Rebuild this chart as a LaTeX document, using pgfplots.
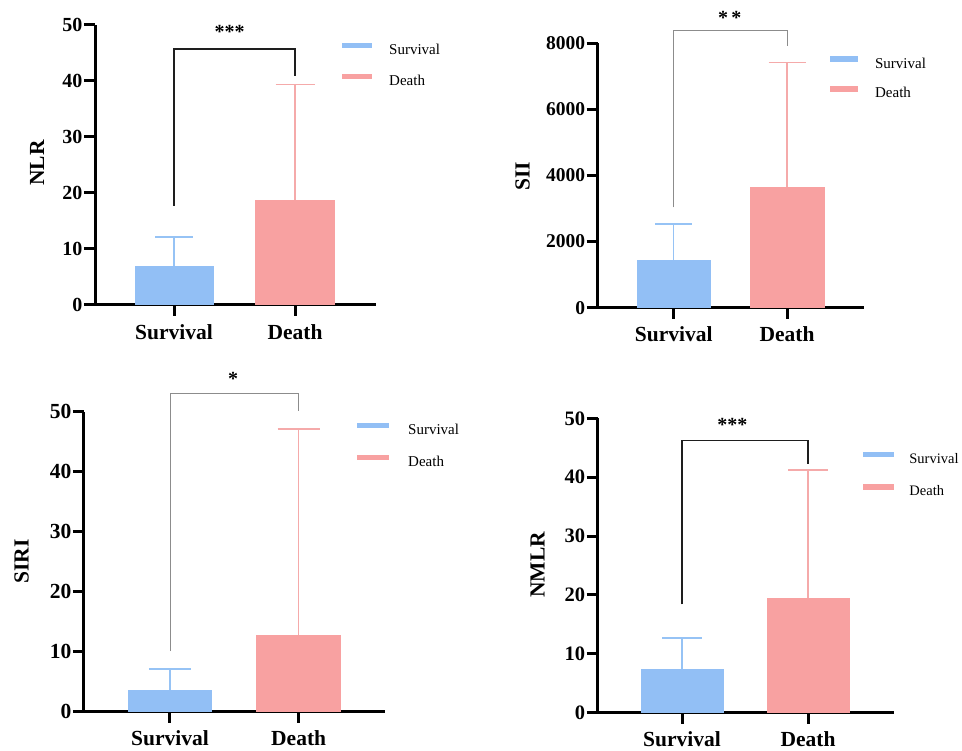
\documentclass[border=0pt]{standalone}
\usepackage{pgfplots}
\pgfplotsset{compat=1.18}
\usepackage{fontspec}
\setmainfont{Liberation Serif}
\definecolor{blueC}{RGB}{146,191,245}
\definecolor{pinkC}{RGB}{248,161,161}
\definecolor{blueE}{RGB}{150,195,245}
\definecolor{pinkE}{RGB}{245,170,170}
\definecolor{brk}{RGB}{30,30,30}
\definecolor{brkg}{RGB}{140,140,140}
\pgfplotsset{
  panel/.style={
    scale only axis, axis lines=left,
    axis line style={-, line width=3pt, black},
    tick align=outside, major tick length=11pt,
    tick style={line width=3pt, black},
    xtick={1,2}, xticklabels={Survival,Death},
    ymin=0, enlargelimits=false, clip=false,
    /pgf/number format/assume math mode=true,
    /pgf/number format/1000 sep={},
    yticklabel style={font=\fontsize{20}{20}\selectfont\bfseries, inner sep=1.5pt},
    xticklabel style={font=\fontsize{21.5}{21.5}\selectfont\bfseries, inner sep=0pt, yshift=-8pt},
    ylabel style={font=\fontsize{21.5}{21.5}\selectfont\bfseries, anchor=center},
    legend cell align=left,
  },
  leg/.style n args={5}{
    legend image code/.code={\fill[##1, draw=none] (0pt,2.5pt) rectangle (#3,8pt);},
    legend style={draw=none, fill=none, at={(#1,#2)}, anchor=north west,
      inner sep=0pt, row sep=#4, font=\fontsize{15}{15}\selectfont,
      nodes={inner sep=0pt, text height=10.5pt, text depth=3pt},
      /tikz/every odd column/.append style={column sep=#5}},
  },
}
\begin{document}
\begin{tikzpicture}
\useasboundingbox (0,0) rectangle (962pt,751pt);
\clip (0,0) rectangle (962pt,751pt);
% ---------- Panel 1: NLR ----------
\begin{axis}[panel, at={(95pt,446pt)}, anchor=south west,
  width=281pt, height=280pt, xmin=0.347, xmax=2.669, ymax=50,
  ytick={0,10,20,30,40,50}, ylabel={NLR},
  ylabel style={at={(axis description cs:-0.206,0.507)}},
  leg={0.879}{0.938}{30pt}{16.5pt}{17pt}]
\addlegendimage{fill=blueC}\addlegendentry{Survival}
\addlegendimage{fill=pinkC}\addlegendentry{Death}
\addplot[forget plot, ybar, bar width=79pt, bar shift=0pt, fill=blueC, draw=none,
  error bars/.cd, y dir=plus, y explicit,
  error bar style={line width=1.5pt, blueE},
  error mark options={rotate=90, mark size=19pt, line width=1.5pt, blueE}]
  coordinates {(1,7.0) +- (0,5.1)};
\addplot[forget plot, ybar, bar width=80pt, bar shift=0pt, fill=pinkC, draw=none,
  error bars/.cd, y dir=plus, y explicit,
  error bar style={line width=1.5pt, pinkE},
  error mark options={rotate=90, mark size=19.5pt, line width=1.5pt, pinkE}]
  coordinates {(2,18.8) +- (0,20.6)};
\draw[line width=1.5pt, brk] (axis cs:1,17.7) |- (axis cs:2,45.7) -- (axis cs:2,40.9);
\node[anchor=base, font=\fontsize{20}{20}\selectfont\bfseries] at (axis cs:1.46,47.6) {***};
\end{axis}
% ---------- Panel 2: SII ----------
\begin{axis}[panel, at={(597.7pt,443.3pt)}, anchor=south west,
  width=266pt, height=264.4pt, xmin=0.329, xmax=2.677, ymax=8000,
  ytick={0,2000,4000,6000,8000}, ylabel={SII},
  yticklabel style={font=\fontsize{19.5}{19.5}\selectfont\bfseries},
  ylabel style={at={(axis description cs:-0.282,0.498)}},
  leg={0.873}{0.951}{28pt}{14.8pt}{17pt}]
\addlegendimage{fill=blueC}\addlegendentry{Survival}
\addlegendimage{fill=pinkC}\addlegendentry{Death}
\addplot[forget plot, ybar, bar width=74pt, bar shift=0pt, fill=blueC, draw=none,
  error bars/.cd, y dir=plus, y explicit,
  error bar style={line width=1.2pt, blueE},
  error mark options={rotate=90, mark size=18.5pt, line width=1.2pt, blueE}]
  coordinates {(1,1443) +- (0,1090)};
\addplot[forget plot, ybar, bar width=75pt, bar shift=0pt, fill=pinkC, draw=none,
  error bars/.cd, y dir=plus, y explicit,
  error bar style={line width=1.2pt, pinkE},
  error mark options={rotate=90, mark size=18.5pt, line width=1.2pt, pinkE}]
  coordinates {(2,3661) +- (0,3764)};
\draw[line width=0.9pt, brkg] (axis cs:1,3038) |- (axis cs:2,8393) -- (axis cs:2,7918);
\node[anchor=base, font=\fontsize{20}{20}\selectfont\bfseries] at (axis cs:1.495,8560) {*\,*};
\end{axis}
% ---------- Panel 3: SIRI ----------
\begin{axis}[panel, at={(84pt,39.3pt)}, anchor=south west,
  width=301pt, height=300pt, xmin=0.332, xmax=2.671, ymax=50,
  ytick={0,10,20,30,40,50}, ylabel={SIRI},
  yticklabel style={font=\fontsize{21.5}{21.5}\selectfont\bfseries},
  ylabel style={at={(axis description cs:-0.207,0.5)}},
  leg={0.907}{0.964}{32pt}{17.5pt}{19pt}]
\addlegendimage{fill=blueC}\addlegendentry{Survival}
\addlegendimage{fill=pinkC}\addlegendentry{Death}
\addplot[forget plot, ybar, bar width=84pt, bar shift=0pt, fill=blueC, draw=none,
  error bars/.cd, y dir=plus, y explicit,
  error bar style={line width=1.2pt, blueE},
  error mark options={rotate=90, mark size=21pt, line width=1.2pt, blueE}]
  coordinates {(1,3.6) +- (0,3.5)};
\addplot[forget plot, ybar, bar width=85pt, bar shift=0pt, fill=pinkC, draw=none,
  error bars/.cd, y dir=plus, y explicit,
  error bar style={line width=1.2pt, pinkE},
  error mark options={rotate=90, mark size=21pt, line width=1.2pt, pinkE}]
  coordinates {(2,12.7) +- (0,34.4)};
\draw[line width=0.9pt, brkg] (axis cs:1,10.1) |- (axis cs:2,53.1) -- (axis cs:2,50.1);
\node[anchor=base, font=\fontsize{20}{20}\selectfont\bfseries] at (axis cs:1.49,54.3) {*};
\end{axis}
% ---------- Panel 4: NMLR ----------
\begin{axis}[panel, at={(597.7pt,38.3pt)}, anchor=south west,
  width=296pt, height=294.4pt, xmin=0.331, xmax=2.680, ymax=50,
  ytick={0,10,20,30,40,50}, ylabel={NMLR},
  yticklabel style={font=\fontsize{20.5}{20.5}\selectfont\bfseries},
  ylabel style={at={(axis description cs:-0.203,0.502)}},
  leg={0.897}{0.887}{31pt}{17.5pt}{15pt},
  legend style={font=\fontsize{14.5}{14.5}\selectfont}]
\addlegendimage{fill=blueC}\addlegendentry{Survival}
\addlegendimage{fill=pinkC}\addlegendentry{Death}
\addplot[forget plot, ybar, bar width=83pt, bar shift=0pt, fill=blueC, draw=none,
  error bars/.cd, y dir=plus, y explicit,
  error bar style={line width=1.5pt, blueE},
  error mark options={rotate=90, mark size=20pt, line width=1.5pt, blueE}]
  coordinates {(1,7.4) +- (0,5.3)};
\addplot[forget plot, ybar, bar width=83pt, bar shift=0pt, fill=pinkC, draw=none,
  error bars/.cd, y dir=plus, y explicit,
  error bar style={line width=1.5pt, pinkE},
  error mark options={rotate=90, mark size=20pt, line width=1.5pt, pinkE}]
  coordinates {(2,19.5) +- (0,21.7)};
\draw[line width=1.5pt, brk] (axis cs:1,18.4) |- (axis cs:2,46.2) -- (axis cs:2,42.2);
\node[anchor=base, font=\fontsize{20}{20}\selectfont\bfseries] at (axis cs:1.40,47.8) {***};
\end{axis}
\end{tikzpicture}
\end{document}
